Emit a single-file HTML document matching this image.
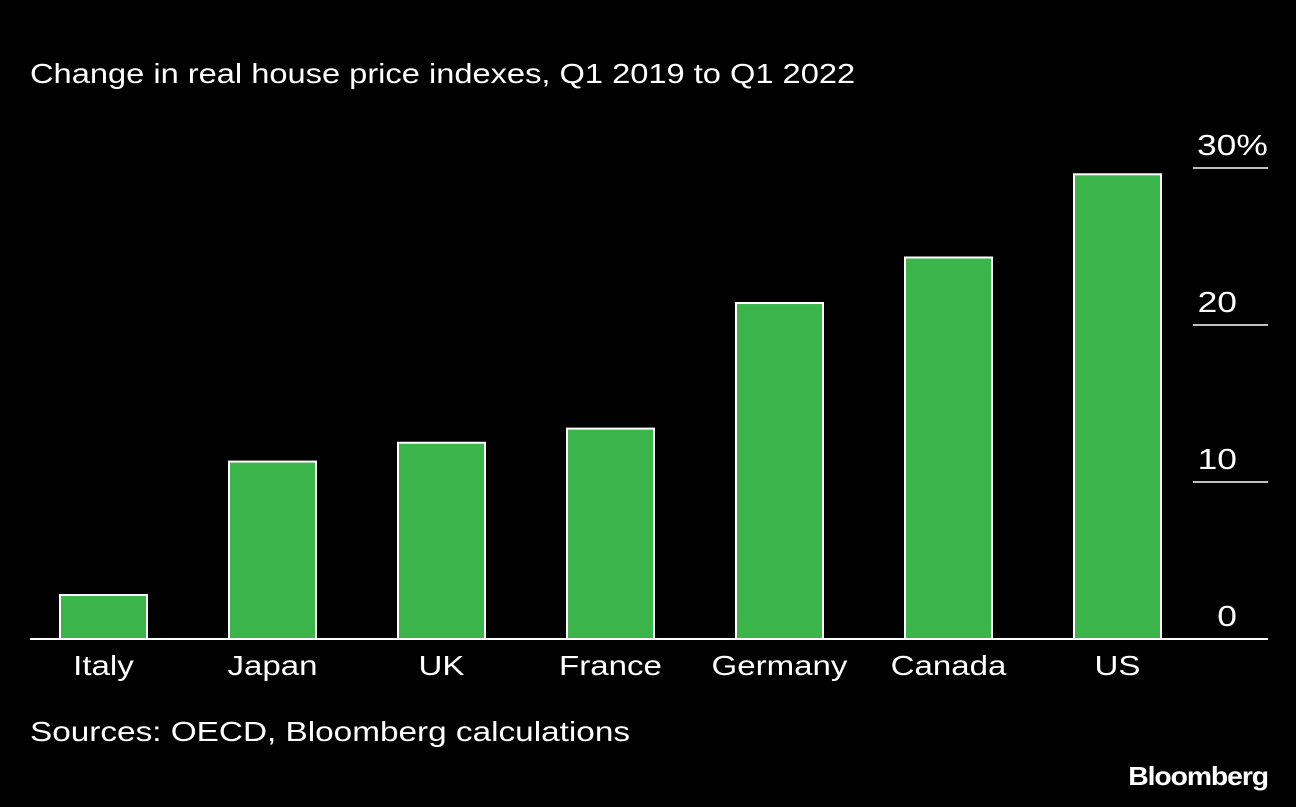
<!DOCTYPE html>
<html><head><meta charset="utf-8"><style>
html,body{margin:0;padding:0;background:#000;}
body{width:1296px;height:802px;overflow:hidden;font-family:"Liberation Sans",sans-serif;color:#fff;}
svg text{font-family:"Liberation Sans",sans-serif;fill:#fff;}
</style></head><body>
<svg width="1296" height="802">
<text x="30" y="83" font-size="28" data-stretch="1.165">Change in real house price indexes, Q1 2019 to Q1 2022</text>
<g id="grid"></g><g id="bars"></g><g id="xlabels"></g>
<line x1="30" x2="1268" y1="639" y2="639" stroke="#fff" stroke-width="2"/>
<text x="30" y="741" font-size="28" data-stretch="1.19">Sources: OECD, Bloomberg calculations</text>
<text x="1268" y="785" font-size="26" font-weight="bold" text-anchor="end" letter-spacing="-1" data-stretch="1.09">Bloomberg</text>
</svg>
<script>
const categories=["Italy","Japan","UK","France","Germany","Canada","US"];
const values=[2.8,11.3,12.5,13.4,21.4,24.3,29.6];
const ticks=[0,10,20,30];
const tickLabels=["0","10","20","30%"];
const NS="http://www.w3.org/2000/svg";
const y=v=>639-v*15.7;
const xc=i=>103.5+i*169;
function mk(t,a,p){const e=document.createElementNS(NS,t);for(const k in a)e.setAttribute(k,a[k]);p.appendChild(e);return e;}
const grid=document.getElementById('grid');
ticks.forEach((t,i)=>{
 if(t!==0){const l=mk('line',{x1:1193,x2:1268,y1:y(t),y2:y(t),stroke:'#fff','stroke-width':1.5},grid);
 
 }
 const tx=mk('text',{x:1197,y:y(t)-13,'font-size':29,'data-stretch':1.22},grid);
 tx.textContent=tickLabels[i];
 if(t!==30){tx.setAttribute('x',1237);tx.setAttribute('text-anchor','end');}
 
 
});
const bars=document.getElementById('bars'),xl=document.getElementById('xlabels');
categories.forEach((c,i)=>{
 const r=mk('rect',{x:xc(i)-43.5,y:y(values[i]),width:87,height:639-y(values[i]),fill:'#3bb54a',stroke:'#fff','stroke-width':2},bars);
 
 
 const t=mk('text',{x:xc(i),y:675,'font-size':28,'text-anchor':'middle','data-stretch':1.18},xl);
 t.textContent=c;
 
 
});
document.querySelectorAll('text[data-stretch]').forEach(t=>{
 const w=t.getComputedTextLength()*parseFloat(t.getAttribute('data-stretch'));
 t.setAttribute('textLength',w);
 t.setAttribute('lengthAdjust','spacingAndGlyphs');
});
</script>
</body></html>
